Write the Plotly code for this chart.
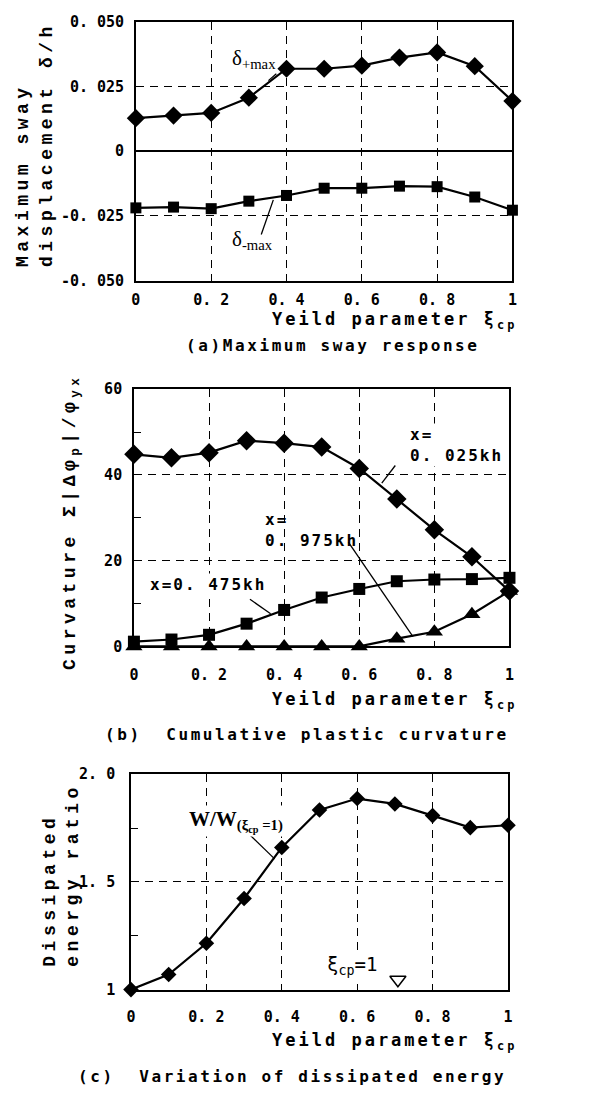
import plotly.graph_objects as go

# ---------------- data ----------------
xi = [0.0, 0.1, 0.2, 0.3, 0.4, 0.5, 0.6, 0.7, 0.8, 0.9, 1.0]

# (a) maximum sway displacement
delta_pos = [0.0128, 0.0138, 0.0148, 0.0207, 0.0319, 0.0319, 0.0331, 0.0362, 0.0382, 0.0329, 0.0194]
delta_neg = [-0.0219, -0.0216, -0.0222, -0.0193, -0.0171, -0.0143, -0.0143, -0.0135, -0.0137, -0.0177, -0.0228]

# (b) cumulative plastic curvature
curv_0025 = [44.8, 44.0, 45.2, 48.0, 47.4, 46.5, 41.5, 34.4, 27.2, 20.9, 12.9]
curv_0475 = [1.1, 1.6, 2.7, 5.3, 8.5, 11.4, 13.4, 15.2, 15.6, 15.7, 16.0]
curv_0975 = [0.0, 0.0, 0.0, 0.0, 0.0, 0.0, 0.0, 1.8, 3.4, 7.5, 12.9]

# (c) dissipated energy ratio
energy_ratio = [1.0, 1.07, 1.215, 1.423, 1.66, 1.834, 1.887, 1.862, 1.808, 1.752, 1.763]
ref_xi = [0.708]
ref_level = [1.046]

x_tickvals = [0, 0.2, 0.4, 0.6, 0.8, 1.0]
x_ticktext = ["0", "0. 2", "0. 4", "0. 6", "0. 8", "1"]
ya_tickvals = [-0.05, -0.025, 0, 0.025, 0.05]
ya_ticktext = ["-0. 050", "-0. 025", "0", "0. 025", "0. 050"]
yb_tickvals = [0, 20, 40, 60]
yb_ticktext = ["0", "20", "40", "60"]
yc_tickvals = [1.0, 1.5, 2.0]
yc_ticktext = ["1", "1. 5", "2. 0"]

# page is 608x1101; the body keeps its default 8px margin
PAGE_M = 8
W, H = 608 - 2 * PAGE_M, 1101 - 2 * PAGE_M
MONO = "DejaVu Sans Mono"
TYPE = "Liberation Mono"
SERIF = "Liberation Serif"


def px(x):
    return (x - PAGE_M) / W


def py(y):
    return 1 - (y - PAGE_M) / H


def sp(t, ls):
    return f'<span style="letter-spacing:{ls}px">{t}</span>'


fig = go.Figure()

line_kw = dict(color="black", width=2.2)

# (a)
fig.add_trace(go.Scatter(x=xi, y=delta_pos, mode="lines+markers", line=line_kw,
                         marker=dict(symbol="diamond", size=14, color="black"),
                         xaxis="x", yaxis="y", cliponaxis=False, showlegend=False))
fig.add_trace(go.Scatter(x=xi, y=delta_neg, mode="lines+markers", line=line_kw,
                         marker=dict(symbol="square", size=11, color="black"),
                         xaxis="x", yaxis="y", cliponaxis=False, showlegend=False))
# (b)
fig.add_trace(go.Scatter(x=xi, y=curv_0025, mode="lines+markers", line=line_kw,
                         marker=dict(symbol="diamond", size=15, color="black"),
                         xaxis="x2", yaxis="y2", cliponaxis=False, showlegend=False))
fig.add_trace(go.Scatter(x=xi, y=curv_0475, mode="lines+markers", line=line_kw,
                         marker=dict(symbol="square", size=12, color="black"),
                         xaxis="x2", yaxis="y2", cliponaxis=False, showlegend=False))
fig.add_trace(go.Scatter(x=xi, y=curv_0975, mode="lines+markers", line=line_kw,
                         marker=dict(symbol="triangle-up", size=15, color="black"),
                         xaxis="x2", yaxis="y2", cliponaxis=False, showlegend=False))
# (c)
fig.add_trace(go.Scatter(x=xi, y=energy_ratio, mode="lines+markers", line=line_kw,
                         marker=dict(symbol="diamond", size=12, color="black"),
                         xaxis="x3", yaxis="y3", cliponaxis=False, showlegend=False))
fig.add_trace(go.Scatter(x=ref_xi, y=ref_level, mode="markers",
                         marker=dict(symbol="triangle-down-open", size=14, color="black",
                                     line=dict(width=1.5, color="black")),
                         xaxis="x3", yaxis="y3", cliponaxis=False, showlegend=False))

tickfont = dict(family=MONO, size=15, color="black", weight="bold")
grid_kw = dict(showgrid=True, gridcolor="black", gridwidth=1.2, griddash="8px,6px",
               showline=True, linecolor="black", linewidth=1.5, mirror=True,
               ticks="", tickfont=tickfont, zeroline=False, fixedrange=True)


def xaxis_cfg(domain, anchor, standoff):
    d = dict(grid_kw)
    d.update(domain=domain, anchor=anchor, range=[0, 1], tickmode="array",
             tickvals=x_tickvals, ticktext=x_ticktext, ticklabelstandoff=standoff)
    return d


ya = dict(grid_kw)
ya.update(domain=[py(276), py(13)], anchor="x", range=[-0.05, 0.05], tickmode="array",
          tickvals=ya_tickvals, ticktext=ya_ticktext, zeroline=True, zerolinecolor="black",
          zerolinewidth=1.5, ticklabelstandoff=7)
yb = dict(grid_kw)
yb.update(domain=[py(648), py(386.5)], anchor="x2", range=[0, 60], tickmode="array",
          tickvals=yb_tickvals, ticktext=yb_ticktext, ticklabelstandoff=7,
          minor=dict(tickvals=[10, 30, 50], ticks="inside", ticklen=7, tickcolor="black",
                     tickwidth=1.3, showgrid=False))
yc = dict(grid_kw)
yc.update(domain=[py(997), py(778)], anchor="x3", range=[1, 2], tickmode="array",
          tickvals=yc_tickvals, ticktext=yc_ticktext, ticklabelstandoff=11,
          minor=dict(tickvals=[1.25, 1.75], ticks="inside", ticklen=7, tickcolor="black",
                     tickwidth=1.3, showgrid=False))

fig.update_layout(
    width=W, height=H, margin=dict(l=0, r=0, t=0, b=0),
    paper_bgcolor="white", plot_bgcolor="white",
    xaxis=xaxis_cfg([px(133), px(516)], "y", 5),
    yaxis=ya,
    xaxis2=xaxis_cfg([px(131), px(513)], "y2", 14),
    yaxis2=yb,
    xaxis3=xaxis_cfg([px(128), px(511.5)], "y3", 13),
    yaxis3=yc,
)

ann = []
ytitle_font = dict(family=TYPE, size=18, color="black", weight="bold")
cap_font = dict(family=MONO, size=16, color="black", weight="bold")
xt_font = dict(family=MONO, size=17, color="black", weight="bold")

# y titles
ann.append(dict(xref="paper", yref="paper", x=px(30), y=py(137.5), textangle=-90, align="left",
                text=sp("Maximum sway", 4.5) + "<br>" + sp("displacement δ/h", 4.5),
                font=ytitle_font, showarrow=False, xanchor="center", yanchor="middle"))
ann.append(dict(xref="paper", yref="paper", x=px(68), y=py(521.5), textangle=-90,
                text=sp("Curvature Σ|Δφ<sub>p</sub>|/φ<sub>yx</sub>", 4.5),
                font=ytitle_font, showarrow=False, xanchor="center", yanchor="middle"))
ann.append(dict(xref="paper", yref="paper", x=px(57), y=py(880), textangle=-90, align="left",
                text=sp("Dissipated", 4.5) + "<br>" + sp("energy ratio", 4.5),
                font=ytitle_font, showarrow=False, xanchor="center", yanchor="middle"))

# x titles
for yy in (317, 703, 1050):
    ann.append(dict(xref="paper", yref="paper", x=px(523), y=py(yy),
                    text=sp("Yeild parameter ξ<sub>cp</sub>", 3), font=xt_font,
                    showarrow=False, xanchor="right", yanchor="middle"))

# captions
ann.append(dict(xref="paper", yref="paper", x=px(485), y=py(342),
                text=sp("(a)Maximum sway response", 2.6), font=cap_font,
                showarrow=False, xanchor="right", yanchor="middle"))
ann.append(dict(xref="paper", yref="paper", x=px(515), y=py(738),
                text=sp("(b)\u00a0 Cumulative plastic curvature", 2.6), font=cap_font,
                showarrow=False, xanchor="right", yanchor="middle"))
ann.append(dict(xref="paper", yref="paper", x=px(511), y=py(1085),
                text=sp("(c)\u00a0 Variation of dissipated energy", 2.6), font=cap_font,
                showarrow=False, xanchor="right", yanchor="middle"))

# curve labels (a)
ann.append(dict(xref="x", yref="y", x=0.313, y=0.0358,
                text="δ<sub>+max</sub>", font=dict(family=SERIF, size=21, color="black"),
                showarrow=False, xanchor="center", yanchor="middle"))
ann.append(dict(xref="x", yref="y", x=0.311, y=-0.0342,
                text="δ<sub>-max</sub>", font=dict(family=SERIF, size=21, color="black"),
                showarrow=False, xanchor="center", yanchor="middle"))
# curve labels (b)
lab_font = dict(family=MONO, size=16, color="black", weight="bold")
ann.append(dict(xref="x2", yref="y2", x=0.730, y=46.9, align="left",
                text=sp("x=", 2) + "<br>" + sp("0. 025kh", 2), font=lab_font,
                showarrow=False, xanchor="left", yanchor="middle", bgcolor="white"))
ann.append(dict(xref="x2", yref="y2", x=0.343, y=27.1, align="left",
                text=sp("x=", 2) + "<br>" + sp("0. 975kh", 2), font=lab_font,
                showarrow=False, xanchor="left", yanchor="middle"))
ann.append(dict(xref="x2", yref="y2", x=0.037, y=14.4, align="left",
                text=sp("x=0. 475kh", 2), font=lab_font,
                showarrow=False, xanchor="left", yanchor="middle", bgcolor="white"))
# curve labels (c)
ann.append(dict(xref="x3", yref="y3", x=0.149, y=1.785,
                text="W/W<sub>(ξ<sub>cp</sub> =1)</sub>",
                font=dict(family=SERIF, size=21, color="black", weight="bold"),
                showarrow=False, xanchor="left", yanchor="middle", bgcolor="white"))
ann.append(dict(xref="x3", yref="y3", x=0.514, y=1.11,
                text="ξ<sub>cp</sub>=1", font=dict(family=MONO, size=19, color="black"),
                showarrow=False, xanchor="left", yanchor="middle", bgcolor="white"))

fig.update_layout(annotations=ann)

# leader lines
shapes = []
lk = dict(type="line", line=dict(color="black", width=1.3))
shapes.append(dict(lk, xref="x", yref="y", x0=0.373, y0=0.030, x1=0.352, y1=0.0273))
shapes.append(dict(lk, xref="x", yref="y", x0=0.333, y0=-0.0322, x1=0.365, y1=-0.0188))
shapes.append(dict(lk, xref="x2", yref="y2", x0=0.696, y0=42.2, x1=0.660, y1=38.1))
shapes.append(dict(lk, xref="x2", yref="y2", x0=0.571, y0=24.3, x1=0.743, y1=2.3))
shapes.append(dict(lk, xref="x2", yref="y2", x0=0.309, y0=11.0, x1=0.364, y1=7.6))
shapes.append(dict(lk, xref="x3", yref="y3", x0=0.311, y0=1.726, x1=0.381, y1=1.607))
fig.update_layout(shapes=shapes)

fig.write_html("out.html", config={"displayModeBar": False})
